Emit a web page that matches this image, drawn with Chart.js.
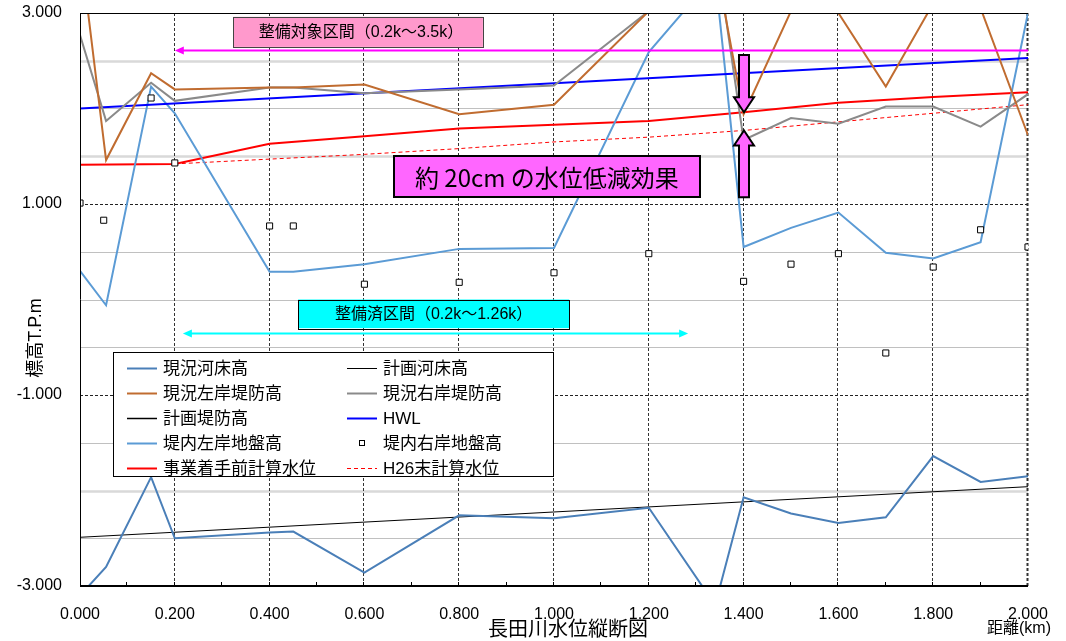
<!DOCTYPE html>
<html lang="ja">
<head>
<meta charset="utf-8">
<title>長田川水位縦断図</title>
<script src="https://cdn.jsdelivr.net/npm/chart.js@4.4.1/dist/chart.umd.min.js"></script>
<style>
  html, body { margin: 0; padding: 0; background: #fff; }
  #wrap { width: 1066px; height: 641px; }
</style>
</head>
<body>
<div id="wrap"><canvas id="c" width="1066" height="641"></canvas></div>
<script>
// ---- 縦断データ（距離 km / 標高 T.P.m） ----
const bedKm      = [0, 0.055, 0.15, 0.2, 0.4, 0.45, 0.6, 0.8, 1.0, 1.2, 1.34, 1.4, 1.5, 1.6, 1.7, 1.8, 1.9, 2.0];
const bedNow     = [-3.1, -2.8, -1.86, -2.5, -2.44, -2.43, -2.86, -2.26, -2.29, -2.18, -3.2, -2.07, -2.24, -2.34, -2.28, -1.64, -1.91, -1.85];

const bedPlanKm  = [0, 2.0];
const bedPlan    = [-2.49, -1.96];

const leveeKm    = [0, 0.055, 0.15, 0.2, 0.4, 0.45, 0.6, 0.8, 1.0, 1.2, 1.34, 1.4, 1.5, 1.6, 1.7, 1.8, 1.9, 2.0];
const leveeLeft  = [3.7, 1.46, 2.37, 2.20, 2.22, 2.22, 2.25, 1.94, 2.04, 3.02, 3.55, 1.94, 3.02, 3.0, 2.23, 3.1, 3.05, 1.72];
const leveeRight = [2.77, 1.87, 2.27, 2.08, 2.22, 2.22, 2.16, 2.2, 2.24, 3.02, 3.72, 1.67, 1.90, 1.84, 2.02, 2.02, 1.81, 2.15];

const leveePlanKm = [];
const leveePlan   = [];

const hwlKm      = [0, 2.0];
const hwl        = [2.0, 2.53];

const groundKm   = [0, 0.055, 0.15, 0.2, 0.4, 0.45, 0.6, 0.8, 1.0, 1.2, 1.34, 1.4, 1.5, 1.6, 1.7, 1.8, 1.9, 2.0];
const groundLeft = [0.30, -0.06, 2.23, 1.95, 0.29, 0.29, 0.37, 0.53, 0.54, 2.59, 3.4, 0.55, 0.75, 0.91, 0.49, 0.43, 0.60, 3.0];

const groundRKm  = [0, 0.05, 0.15, 0.2, 0.4, 0.45, 0.6, 0.8, 1.0, 1.2, 1.4, 1.5, 1.6, 1.7, 1.8, 1.9, 2.0];
const groundRight= [1.01, 0.83, 2.11, 1.43, 0.77, 0.77, 0.16, 0.18, 0.28, 0.48, 0.19, 0.37, 0.48, -0.56, 0.34, 0.73, 0.55];

const wlBeforeKm = [0, 0.2, 0.4, 0.6, 0.8, 1.0, 1.2, 1.4, 1.6, 1.8, 2.0];
const wlBefore   = [1.41, 1.42, 1.63, 1.71, 1.79, 1.83, 1.87, 1.96, 2.06, 2.12, 2.17];

const wlH26Km    = [0.2, 0.4, 0.6, 0.8, 1.0, 1.2, 1.4, 1.6, 1.8, 2.0];
const wlH26      = [1.42, 1.47, 1.52, 1.58, 1.65, 1.70, 1.77, 1.86, 1.95, 2.04];

// 軸目盛
const xLabelStep = 0.2;
const yLabelValues = [3, 1, -1, -3];
const ySoftGrid = [2.5, 2, 1.5, 0.5, 0, -0.5, -1.5, -2, -2.5];
const yWideGrid = [2.5, 1.5, -2];

// 区間表示
const targetRange = { from: 0.2, label: '整備対象区間（0.2k～3.5k）' };
const doneRange   = { from: 0.217, to: 1.283, label: '整備済区間（0.2k～1.26k）' };
const effectKm    = 1.4;
const effectLabel = '約 20cm の水位低減効果';

const pts = (xs, ys) => xs.map((v, i) => ({ x: v, y: ys[i] }));

const JP  = '"Noto Sans CJK JP", sans-serif';
const NUM = '"Liberation Sans", "Noto Sans CJK JP", sans-serif';

const line = (label, xs, ys, color, width, extra = {}) => Object.assign({
  label, data: pts(xs, ys), borderColor: color, backgroundColor: color,
  borderWidth: width, pointRadius: 0, tension: 0, fill: false
}, extra);

const datasets = [
  line('現況河床高', bedKm, bedNow, '#4a7fb8', 2),
  line('計画河床高', bedPlanKm, bedPlan, '#000000', 1),
  line('現況左岸堤防高', leveeKm, leveeLeft, '#c06c30', 2),
  line('現況右岸堤防高', leveeKm, leveeRight, '#8a8a8a', 2),
  line('計画堤防高', leveePlanKm, leveePlan, '#000000', 1.5),
  line('HWL', hwlKm, hwl, '#0000ff', 2),
  line('堤内左岸地盤高', groundKm, groundLeft, '#5b9bd5', 2),
  line('堤内右岸地盤高', groundRKm, groundRight, '#000000', 1, {
    showLine: false, pointStyle: 'rect', pointRadius: 4.3, pointBorderWidth: 1,
    pointBackgroundColor: '#ffffff', pointBorderColor: '#000000', order: -1
  }),
  line('事業着手前計算水位', wlBeforeKm, wlBefore, '#ff0000', 2),
  line('H26末計算水位', wlH26Km, wlH26, '#ff0000', 1, { borderDash: [4, 3] })
];

function blockArrow(ctx, cx, tipY, tailY) {
  const dir = tailY > tipY ? 1 : -1; // 1: 上向き
  const sh = 5, hh = 10, hl = 15;
  const baseY = tipY + dir * hl;
  ctx.beginPath();
  ctx.moveTo(cx - sh, tailY);
  ctx.lineTo(cx - sh, baseY);
  ctx.lineTo(cx - hh, baseY);
  ctx.lineTo(cx, tipY);
  ctx.lineTo(cx + hh, baseY);
  ctx.lineTo(cx + sh, baseY);
  ctx.lineTo(cx + sh, tailY);
  ctx.closePath();
  ctx.fillStyle = '#ff66ff';
  ctx.fill();
  ctx.lineWidth = 2;
  ctx.strokeStyle = '#000';
  ctx.lineJoin = 'miter';
  ctx.stroke();
}

function arrowHead(ctx, tipX, y, dir, color) {
  ctx.beginPath();
  ctx.moveTo(tipX, y);
  ctx.lineTo(tipX + dir * 9, y - 4);
  ctx.lineTo(tipX + dir * 9, y + 4);
  ctx.closePath();
  ctx.fillStyle = color;
  ctx.fill();
}

const decor = {
  id: 'decor',
  beforeDatasetsDraw(chart) {
    const { ctx, chartArea: a, scales: { x, y } } = chart;
    ctx.save();
    // 補助横線
    ySoftGrid.forEach(v => {
      const py = Math.round(y.getPixelForValue(v)) + 0.5;
      const wide = yWideGrid.includes(v);
      ctx.strokeStyle = wide ? '#d9d9d9' : '#c0c0c0';
      ctx.lineWidth = wide ? 2.5 : 1;
      ctx.beginPath(); ctx.moveTo(a.left, py); ctx.lineTo(a.right, py); ctx.stroke();
    });
    // 主横線（破線）
    ctx.setLineDash([3, 2]);
    ctx.strokeStyle = '#222';
    ctx.lineWidth = 1;
    [1, -1].forEach(v => {
      const py = Math.round(y.getPixelForValue(v)) + 0.5;
      ctx.beginPath(); ctx.moveTo(a.left, py); ctx.lineTo(a.right, py); ctx.stroke();
    });
    // 縦線（破線）
    ctx.strokeStyle = '#333';
    for (let k = 1; k <= 10; k++) {
      const v = k * xLabelStep;
      const px = Math.round(x.getPixelForValue(v)) - 0.5;
      ctx.lineWidth = k === 10 ? 2 : 1;
      ctx.beginPath(); ctx.moveTo(px, a.top); ctx.lineTo(px, a.bottom); ctx.stroke();
    }
    ctx.restore();
  },
  afterDatasetsDraw(chart) {
    const { ctx, chartArea: a, scales: { x, y } } = chart;
    ctx.save();
    // 枠・軸
    ctx.strokeStyle = '#000';
    ctx.lineWidth = 1;
    ctx.beginPath(); ctx.moveTo(a.left, a.top + 0.5); ctx.lineTo(a.right, a.top + 0.5); ctx.stroke();
    ctx.beginPath(); ctx.moveTo(a.left + 0.5, a.top); ctx.lineTo(a.left + 0.5, a.bottom); ctx.stroke();
    ctx.lineWidth = 2;
    ctx.beginPath(); ctx.moveTo(a.left, a.bottom); ctx.lineTo(a.right, a.bottom); ctx.stroke();
    ctx.lineWidth = 1;
    for (let k = 1; k < 20; k++) {
      const px = Math.round(x.getPixelForValue(k / 10)) - 0.5;
      ctx.beginPath(); ctx.moveTo(px, a.bottom); ctx.lineTo(px, a.bottom - 4); ctx.stroke();
    }

    // 整備対象区間
    const tY = Math.round(y.getPixelForValue(2.61)) + 0.5;
    const tX0 = x.getPixelForValue(targetRange.from);
    ctx.strokeStyle = '#ff00ff';
    ctx.lineWidth = 2;
    ctx.beginPath(); ctx.moveTo(tX0 + 6, tY); ctx.lineTo(a.right, tY); ctx.stroke();
    arrowHead(ctx, tX0, tY, 1, '#ff00ff');

    const pbx = x.getPixelForValue(0.323), pbr = x.getPixelForValue(0.85);
    const pby = y.getPixelForValue(2.96), pbb = y.getPixelForValue(2.645);
    ctx.fillStyle = '#ff99cc';
    ctx.fillRect(pbx, pby, pbr - pbx, pbb - pby);
    ctx.strokeStyle = '#444';
    ctx.lineWidth = 1;
    ctx.strokeRect(Math.round(pbx) + 0.5, Math.round(pby) + 0.5, Math.round(pbr - pbx), Math.round(pbb - pby));
    ctx.fillStyle = '#000';
    ctx.font = '16px ' + NUM;
    ctx.textAlign = 'center';
    ctx.textBaseline = 'middle';
    ctx.fillText(targetRange.label, (pbx + pbr) / 2 + 3, (pby + pbb) / 2 + 1);

    // 整備済区間
    const dY = Math.round(y.getPixelForValue(-0.35)) + 0.5;
    const dX0 = x.getPixelForValue(doneRange.from), dX1 = x.getPixelForValue(doneRange.to);
    ctx.strokeStyle = '#00ffff';
    ctx.lineWidth = 2;
    ctx.beginPath(); ctx.moveTo(dX0 + 6, dY); ctx.lineTo(dX1 - 6, dY); ctx.stroke();
    arrowHead(ctx, dX0, dY, 1, '#00ffff');
    arrowHead(ctx, dX1, dY, -1, '#00ffff');

    const cbx = x.getPixelForValue(0.46), cbr = x.getPixelForValue(1.032);
    const cby = y.getPixelForValue(-0.0), cbb = y.getPixelForValue(-0.3);
    ctx.fillStyle = '#00ffff';
    ctx.fillRect(cbx, cby, cbr - cbx, cbb - cby);
    ctx.strokeStyle = '#000';
    ctx.lineWidth = 1;
    ctx.strokeRect(Math.round(cbx) + 0.5, Math.round(cby) + 0.5, Math.round(cbr - cbx), Math.round(cbb - cby));
    ctx.fillStyle = '#000';
    ctx.fillText(doneRange.label, (cbx + cbr) / 2, (cby + cbb) / 2 + 1);

    // 水位低減効果
    const ex = Math.round(x.getPixelForValue(effectKm));
    const iBefore = wlBeforeKm.indexOf(effectKm), iH26 = wlH26Km.indexOf(effectKm);
    const upTip = y.getPixelForValue(wlBefore[iBefore]);
    const loTip = y.getPixelForValue(wlH26[iH26]);
    blockArrow(ctx, ex, upTip, y.getPixelForValue(2.56));
    blockArrow(ctx, ex, loTip, y.getPixelForValue(1.07));

    const mbx = x.getPixelForValue(0.662), mbr = x.getPixelForValue(1.308);
    const mby = y.getPixelForValue(1.5), mbb = y.getPixelForValue(1.07);
    ctx.fillStyle = '#ff66ff';
    ctx.fillRect(mbx, mby, mbr - mbx, mbb - mby);
    ctx.strokeStyle = '#000';
    ctx.lineWidth = 2;
    ctx.strokeRect(Math.round(mbx), Math.round(mby), Math.round(mbr - mbx), Math.round(mbb - mby));
    ctx.fillStyle = '#000';
    ctx.font = '24px ' + JP;
    ctx.fillText(effectLabel, (mbx + mbr) / 2, (mby + mbb) / 2 + 1);

    // 凡例
    const lx = 113, ly = 352, lw = 440, lh = 124;
    ctx.fillStyle = '#fff';
    ctx.fillRect(lx, ly, lw, lh);
    ctx.strokeStyle = '#000';
    ctx.lineWidth = 1;
    ctx.strokeRect(lx + 0.5, ly + 0.5, lw, lh);
    ctx.font = '17px ' + NUM;
    ctx.textAlign = 'left';
    chart.data.datasets.forEach((ds, i) => {
      const col = i % 2, row = Math.floor(i / 2);
      const sx = col === 0 ? 127 : 347;
      const cy = 368 + row * 25;
      if (ds.showLine === false) {
        ctx.fillStyle = '#fff';
        ctx.fillRect(sx + 12, cy - 3, 6, 6);
        ctx.strokeStyle = '#000';
        ctx.lineWidth = 1;
        ctx.strokeRect(sx + 12.5, cy - 2.5, 5, 5);
      } else {
        ctx.strokeStyle = ds.borderColor;
        ctx.lineWidth = ds.borderWidth;
        ctx.setLineDash(ds.borderDash || []);
        ctx.beginPath(); ctx.moveTo(sx, cy + 0.5); ctx.lineTo(sx + 30, cy + 0.5); ctx.stroke();
        ctx.setLineDash([]);
      }
      ctx.fillStyle = '#000';
      ctx.textBaseline = 'middle';
      ctx.fillText(ds.label, sx + 36, cy + 1);
    });

    // 軸タイトル
    ctx.fillStyle = '#000';
    ctx.textAlign = 'center';
    ctx.textBaseline = 'middle';
    ctx.font = '20px ' + JP;
    ctx.fillText('長田川水位縦断図', (a.left + a.right) / 2 + 14, 628);
    ctx.font = '16px ' + NUM;
    ctx.textAlign = 'left';
    ctx.fillText('距離(km)', 987, 629);
    ctx.save();
    ctx.translate(36, 338);
    ctx.rotate(-Math.PI / 2);
    ctx.textAlign = 'center';
    ctx.font = '18px ' + NUM;
    ctx.fillText('標高T.P.m', 0, 0);
    ctx.restore();

    ctx.restore();
  }
};

new Chart(document.getElementById('c'), {
  type: 'line',
  data: { datasets },
  options: {
    responsive: false,
    devicePixelRatio: 1,
    animation: false,
    layout: { padding: { top: 13, right: 38, left: 0, bottom: 0 } },
    plugins: { legend: { display: false }, tooltip: { enabled: false } },
    elements: { line: { borderCapStyle: 'butt', borderJoinStyle: 'miter' } },
    scales: {
      x: {
        type: 'linear', min: 0, max: 2,
        grid: { display: false, drawTicks: false },
        border: { display: false },
        ticks: {
          stepSize: 0.1, autoSkip: false, maxRotation: 0, padding: 19,
          color: '#000', font: { family: NUM, size: 16 },
          callback: v => (Math.round(v * 10) % 2 === 0 ? v.toFixed(3) : '')
        },
        afterFit: s => { s.height = 55; s.paddingLeft = 0; s.paddingRight = 0; }
      },
      y: {
        type: 'linear', min: -3, max: 3,
        grid: { display: false, drawTicks: false },
        border: { display: false },
        ticks: {
          stepSize: 0.5, autoSkip: false, padding: 18,
          color: '#000', font: { family: NUM, size: 16 },
          callback: v => (yLabelValues.includes(Math.round(v * 2) / 2) ? v.toFixed(3) : '')
        },
        afterFit: s => { s.width = 80; s.paddingTop = 0; s.paddingBottom = 0; }
      }
    }
  },
  plugins: [decor]
});
</script>
</body>
</html>
